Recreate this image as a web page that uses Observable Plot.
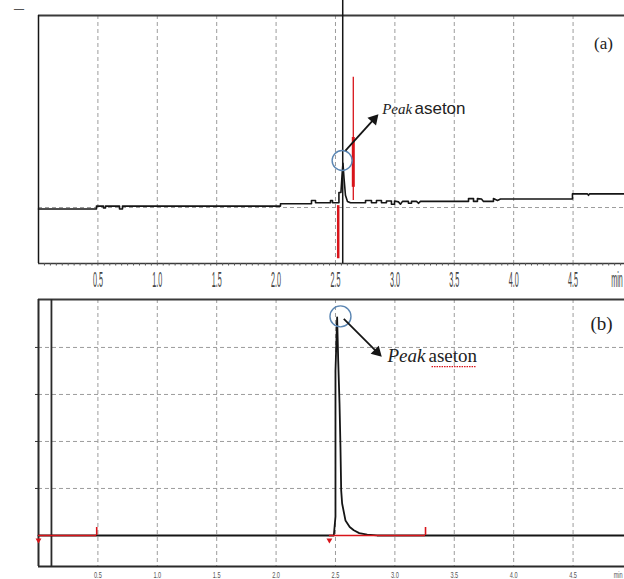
<!DOCTYPE html>
<html><head><meta charset="utf-8">
<script src="https://cdn.jsdelivr.net/npm/d3@7"></script>
<script src="https://cdn.jsdelivr.net/npm/@observablehq/plot@0.6"></script>
<style>
html,body{margin:0;padding:0;background:#fff;overflow:hidden;}
#chart{width:624px;height:579px;position:relative;overflow:hidden;}
#chart svg{display:block;}
</style></head><body><div id="chart"></div>
<script>
// ---------- data (retention time in min, detector signal in arbitrary units) ----------
const xTicks = [0.5, 1.0, 1.5, 2.0, 2.5, 3.0, 3.5, 4.0, 4.5];
const xTickLabels = ["0.5", "1.0", "1.5", "2.0", "2.5", "3.0", "3.5", "4.0", "4.5"];
const unitLabel = "min";
const xDomain = [0, 4.933];

// panel (a)
const topTime = [0, 0.488, 0.488, 0.547, 0.547, 0.564, 0.564, 0.682, 0.682, 0.707, 0.707, 2.037, 2.037, 2.298, 2.298, 2.332, 2.332, 2.458, 2.458, 2.475, 2.475, 2.529, 2.529, 2.546, 2.555, 2.563, 2.572, 2.584, 2.601, 2.626, 2.753, 2.753, 2.803, 2.803, 2.845, 2.845, 2.887, 2.887, 2.929, 2.929, 2.971, 2.971, 2.997, 2.997, 3.03, 3.047, 3.064, 3.114, 3.114, 3.14, 3.14, 3.182, 3.2, 3.215, 3.62, 3.62, 3.662, 3.662, 3.695, 3.695, 3.729, 3.746, 3.83, 3.83, 3.864, 3.889, 4.495, 4.495, 4.621, 4.63, 4.638, 4.933];
const topSignal = [-0.03, -0.03, 0.03, 0.03, -0.01, -0.01, 0.03, 0.03, -0.03, -0.03, 0.03, 0.03, 0.08, 0.08, 0.15, 0.15, 0.1, 0.1, 0.15, 0.15, 0.1, 0.1, 0.32, 0.32, 0.68, 0.94, 0.62, 0.26, 0.13, 0.1, 0.1, 0.15, 0.15, 0.1, 0.1, 0.15, 0.15, 0.1, 0.1, 0.14, 0.14, 0.07, 0.07, 0.14, 0.12, 0.07, 0.13, 0.13, 0.09, 0.09, 0.13, 0.13, 0.09, 0.13, 0.13, 0.19, 0.19, 0.13, 0.13, 0.19, 0.18, 0.13, 0.13, 0.19, 0.15, 0.18, 0.18, 0.29, 0.29, 0.26, 0.29, 0.29];
const topDomain = [-1.191, 4.085];
const topGrid = [0];
const topCursorTime = 2.561;
const topRedTime = [2.523, 2.65];
const topRedFrom = [0.04, 2.77];
const topRedTo = [-1.09, 0.15];
const topRedThickFrom = [1.49];
const topRedThickTo = [0.43];
const topPeak = {t: 2.556, u: 1.0};
const topArrow = {t1: 2.584, u1: 1.21, t2: 2.824, u2: 1.88};
const topLabel = {t: 2.893, u: 1.99, t2: 3.165};
const topTag = {t: 4.756, u: 3.49, text: "(a)"};

// panel (b)
const botTime = [0, 2.486, 2.50, 2.50, 2.514, 2.523, 2.534, 2.542, 2.548, 2.556, 2.584, 2.62, 2.654, 2.70, 2.767, 2.85, 4.933];
const botSignal = [0, 0, 0.4, 3.5, 4.64, 3.72, 2.81, 1.87, 0.96, 0.68, 0.32, 0.18, 0.11, 0.05, 0.02, 0, 0];
const botDomain = [-0.66, 5.02];
const botGrid = [1, 2, 3, 4];
const botMarkerTime = 0.109;
const botSegStart = [0, 2.449];
const botSegEnd = [0.49, 3.258];
const botPeak = {t: 2.542, u: 4.66};
const botArrow = {t1: 2.57, u1: 4.61, t2: 2.85, u2: 3.90};
const botLabel = {t: 2.938, u: 3.68, t2: 3.283};
const botTag = {t: 4.74, u: 4.51, text: "(b)"};
const peakWord = "Peak";
const compoundWord = "aseton";

// ---------- helpers ----------
const grid = "#9c9c9c";
const dash = "4,3";
const red = "#d8141a";
const blue = "#5b86b3";
const ink = "#151515";
const toRows = (ts, us) => ts.map((t, i) => ({t, u: us[i]}));
const labelMap = new Map(xTicks.map((v, i) => [v, xTickLabels[i]]));

function squash(svg, sx, sy) {
  svg.querySelectorAll('g[aria-label="x-axis tick label"] text').forEach(t => {
    const tr = t.getAttribute("transform");
    if (tr) t.setAttribute("transform", tr + ` scale(${sx},${sy})`);
  });
}

const minorTicks = d3.range(1, 99).map(i => +(i * 0.05).toFixed(2));

// ---------- panel (a) ----------
const topPlot = Plot.plot({
  width: 624, height: 290,
  marginLeft: 38, marginRight: 0, marginTop: 15, marginBottom: 27,
  x: {domain: xDomain, label: null, axis: null},
  y: {domain: topDomain, label: null, axis: null},
  style: {background: "transparent", overflow: "visible"},
  marks: [
    Plot.ruleX(xTicks, {stroke: grid, strokeDasharray: dash}),
    Plot.ruleY(topGrid, {stroke: grid, strokeDasharray: dash}),
    Plot.ruleY([topDomain[1]], {stroke: "#3a3a3a", strokeWidth: 2}),
    Plot.ruleY([topDomain[0]], {stroke: "#3a3a3a", strokeWidth: 1.5}),
    Plot.ruleX([0], {stroke: ink, strokeWidth: 1.5}),
    Plot.axisX(minorTicks, {tickSize: 2.5, tickFormat: () => "", stroke: "#555"}),
    Plot.axisX([...xTicks, 4.87], {
      tickSize: 0, tickPadding: 8, fontSize: 12, fontFamily: "Liberation Sans", fill: "#444",
      tickFormat: d => labelMap.get(d) ?? unitLabel
    }),
    Plot.line(toRows(topTime, topSignal), {x: "t", y: "u", stroke: ink, strokeWidth: 1.6}),
    Plot.ruleX([topCursorTime], {y1: topDomain[0], y2: topDomain[1] + 15 / 47, stroke: ink, strokeWidth: 1.5}),
    Plot.ruleX(topRedTime, {x: topRedTime, y1: topRedFrom, y2: topRedTo, stroke: red, strokeWidth: (d, i) => i === 0 ? 2.5 : 1.3}),
    Plot.ruleX([topRedTime[1]], {y1: topRedThickFrom, y2: topRedThickTo, stroke: red, strokeWidth: 3}),
    Plot.dot([topPeak], {x: "t", y: "u", r: 10, stroke: blue, strokeWidth: 1.4, fill: "none"}),
    Plot.link([topArrow], {x1: "t1", y1: "u1", x2: "t2", y2: "u2", stroke: ink, strokeWidth: 1.8}),
    Plot.dot([topArrow], {x: "t2", y: "u2", symbol: "triangle2", r: 5.5, fill: ink, rotate: 42}),
    Plot.text([peakWord], {x: topLabel.t, y: topLabel.u, textAnchor: "start", lineAnchor: "bottom", fontSize: 15, fontStyle: "italic", fontFamily: "Liberation Serif", fill: "#222"}),
    Plot.text([compoundWord], {x: topLabel.t2, y: topLabel.u, textAnchor: "start", lineAnchor: "bottom", fontSize: 17, fontFamily: "Liberation Sans", fill: "#222"}),
    Plot.text([topTag.text], {x: topTag.t, y: topTag.u, fontSize: 17, fontFamily: "Liberation Serif", fill: "#222"}),
    Plot.text(["—"], {frameAnchor: "top-left", textAnchor: "start", lineAnchor: "middle", dx: -25, dy: -7, fontSize: 11, fill: "#555"})
  ]
});
squash(topPlot, 0.6, 1.8);

// ---------- panel (b) ----------
const botPlot = Plot.plot({
  width: 624, height: 289,
  marginLeft: 38, marginRight: 0, marginTop: 9, marginBottom: 13,
  x: {domain: xDomain, label: null, axis: null},
  y: {domain: botDomain, label: null},
  style: {background: "transparent", overflow: "visible"},
  marks: [
    Plot.ruleX(xTicks, {stroke: grid, strokeDasharray: dash}),
    Plot.ruleY(botGrid, {stroke: grid, strokeDasharray: dash}),
    Plot.ruleY([botDomain[1]], {stroke: "#3a3a3a", strokeWidth: 2}),
    Plot.ruleY([botDomain[0]], {stroke: "#2a2a2a", strokeWidth: 2}),
    Plot.ruleX([0], {stroke: "#2a2a2a", strokeWidth: 2}),
    Plot.ruleX([botMarkerTime], {stroke: "#2a2a2a", strokeWidth: 1.8}),
    Plot.axisY(botGrid, {tickSize: 3, tickFormat: () => "", label: null, stroke: "#333"}),
    Plot.axisX([...xTicks, 4.88], {
      tickSize: 0, tickPadding: 5, fontSize: 8, fontFamily: "Liberation Sans", fill: "#555",
      tickFormat: d => labelMap.get(d) ?? unitLabel
    }),
    Plot.line(toRows(botTime, botSignal), {x: "t", y: "u", stroke: ink, strokeWidth: 1.8}),
    Plot.ruleY(botSegStart, {x1: botSegStart, x2: botSegEnd, y: 0, stroke: red, strokeWidth: 1.4}),
    Plot.ruleX(botSegEnd, {y1: 0, y2: 0.17, stroke: red, strokeWidth: 1.6}),
    Plot.dot(botSegStart, {x: d => d, y: -0.1, symbol: "triangle2", r: 2.8, fill: red, rotate: 180}),
    Plot.dot([botPeak], {x: "t", y: "u", r: 10.5, stroke: blue, strokeWidth: 1.4, fill: "none"}),
    Plot.link([botArrow], {x1: "t1", y1: "u1", x2: "t2", y2: "u2", stroke: ink, strokeWidth: 1.8}),
    Plot.dot([botArrow], {x: "t2", y: "u2", symbol: "triangle2", r: 5.5, fill: ink, rotate: 135}),
    Plot.text([peakWord], {x: botLabel.t, y: botLabel.u, textAnchor: "start", lineAnchor: "bottom", fontSize: 19, fontStyle: "italic", fontFamily: "Liberation Serif", fill: "#222"}),
    Plot.text([compoundWord], {x: botLabel.t2, y: botLabel.u, textAnchor: "start", lineAnchor: "bottom", fontSize: 19, fontFamily: "Liberation Serif", fill: "#222"}),
    Plot.ruleY([botLabel.u - 0.09], {x1: botLabel.t2 + 0.03, x2: botLabel.t2 + 0.40, stroke: red, strokeWidth: 1.2, strokeDasharray: "1.5,1"}),
    Plot.text([botTag.text], {x: botTag.t, y: botTag.u, fontSize: 19, fontFamily: "Liberation Serif", fill: "#222"})
  ]
});
squash(botPlot, 0.7, 1.15);

const root = document.getElementById("chart");
root.append(topPlot, botPlot);
</script>
</body></html>
